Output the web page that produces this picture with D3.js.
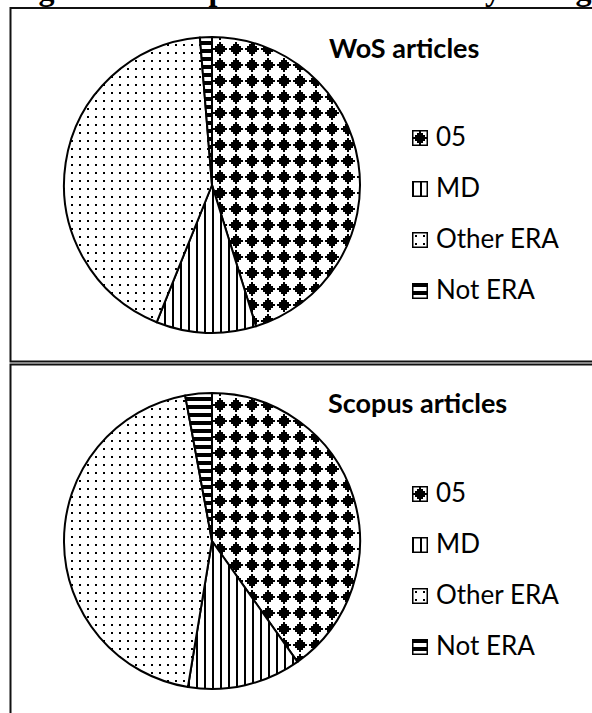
<!DOCTYPE html>
<html>
<head>
<meta charset="utf-8">
<script src="https://cdn.jsdelivr.net/npm/d3@7"></script>
<style>
  body { margin: 0; background: #fff; }
  svg { display: block; }
</style>
</head>
<body>
<svg></svg>
<script>
// data (percent of articles)
var categories = ["05", "MD", "Other ERA", "Not ERA"];
var wosValues = [45.2, 10.9, 42.6, 1.3];
var scopusValues = [40.2, 12.4, 44.5, 2.9];
var panelTitles = ["WoS articles", "Scopus articles"];
var figureTitle = "Figure 1: Composition of articles by FoR group (WoS and Scopus)";

var svgWidth = 592, svgHeight = 713;
var panelStep = 356;      // second panel sits this far below the first
var radius = 148;

var svg = d3.select("svg")
    .attr("width", svgWidth)
    .attr("height", svgHeight);

// *** fill patterns, excel style ***
var defs = svg.append("defs");

// 05 : solid diamonds (8x8 bitmap drawn at 2px per cell)
var pDiamond = defs.append("pattern")
    .attr("id", "pat0")
    .attr("patternUnits", "userSpaceOnUse")
    .attr("width", 16).attr("height", 16);
pDiamond.append("rect").attr("width", 16).attr("height", 16).attr("fill", "#fff");
[0, 1, 2, 3, 2, 1, 0].forEach(function (w, r) {
    pDiamond.append("rect")
        .attr("x", 8 - 1 - w * 2)
        .attr("y", 1 + r * 2)
        .attr("width", 2 + w * 4)
        .attr("height", 2)
        .attr("fill", "#000");
});

// MD : vertical lines
var pVert = defs.append("pattern")
    .attr("id", "pat1")
    .attr("patternUnits", "userSpaceOnUse")
    .attr("width", 8).attr("height", 8);
pVert.append("rect").attr("width", 8).attr("height", 8).attr("fill", "#fff");
pVert.append("rect").attr("x", 0).attr("width", 2).attr("height", 8).attr("fill", "#000");

// Other ERA : dots
var pDots = defs.append("pattern")
    .attr("id", "pat2")
    .attr("patternUnits", "userSpaceOnUse")
    .attr("width", 8).attr("height", 8);
pDots.append("rect").attr("width", 8).attr("height", 8).attr("fill", "#fff");
pDots.append("rect").attr("x", 3).attr("y", 3).attr("width", 2).attr("height", 2).attr("fill", "#000");

// Not ERA : dark horizontal
var pHoriz = defs.append("pattern")
    .attr("id", "pat3")
    .attr("patternUnits", "userSpaceOnUse")
    .attr("width", 8).attr("height", 8);
pHoriz.append("rect").attr("width", 8).attr("height", 8).attr("fill", "#fff");
pHoriz.append("rect").attr("y", 0).attr("width", 8).attr("height", 4).attr("fill", "#000");

var fillFor = function (i) { return "url(#pat" + i + ")"; };

// *** figure caption, mostly cut off at the top (as in the source page) ***
svg.append("text")
    .attr("x", 10)
    .attr("y", 0)
    .attr("font-family", "'Liberation Serif', 'Times New Roman', serif")
    .attr("font-weight", "bold")
    .attr("font-size", 32)
    .text(figureTitle);

var pie = d3.pie().sort(null).value(function (d) { return d; });
var arc = d3.arc().innerRadius(0).outerRadius(radius);

var panels = [
    { title: panelTitles[0], values: wosValues },
    { title: panelTitles[1], values: scopusValues }
];

panels.forEach(function (p, k) {
    var top = 8 + k * panelStep;

    // panel frame (right side runs off the page)
    svg.append("rect")
        .attr("x", 10.5)
        .attr("y", top + (k ? 0.5 : 0))
        .attr("width", svgWidth + 20)
        .attr("height", 353.5)
        .attr("fill", "none")
        .attr("stroke", "#111")
        .attr("stroke-width", 2);

    var g = svg.append("g")
        .attr("transform", "translate(0," + (k * panelStep) + ")");

    // the pie
    g.append("g")
        .attr("transform", "translate(212,185)")
        .selectAll("path")
        .data(pie(p.values))
        .enter()
        .append("path")
        .attr("d", arc)
        .attr("fill", function (d, i) { return fillFor(i); })
        .attr("stroke", "#000")
        .attr("stroke-width", 2)
        .attr("stroke-linejoin", "round");

    // title
    g.append("text")
        .attr("x", 329 - k)
        .attr("y", 58 + (k ? -1 : 0))
        .attr("font-family", "Lato, 'Open Sans', sans-serif")
        .attr("font-weight", "bold")
        .attr("font-size", 27)
        .attr("fill", "#000")
        .text(p.title);

    // legend
    var legend = g.selectAll(".legend")
        .data(categories)
        .enter()
        .append("g")
        .attr("class", "legend")
        .attr("transform", function (d, i) {
            return "translate(412," + (146 + i * 51 - 16) + ")";
        });

    legend.append("rect")
        .attr("x", 0.75)
        .attr("y", 0.75)
        .attr("width", 14.5)
        .attr("height", 14.5)
        .attr("fill", function (d, i) { return fillFor(i); })
        .attr("stroke", "#000")
        .attr("stroke-width", 1.5);

    legend.append("text")
        .attr("x", 24)
        .attr("y", 16)
        .attr("font-family", "Lato, 'Open Sans', sans-serif")
        .attr("font-size", 26)
        .attr("fill", "#000")
        .text(function (d) { return d; });
});
</script>
</body>
</html>
